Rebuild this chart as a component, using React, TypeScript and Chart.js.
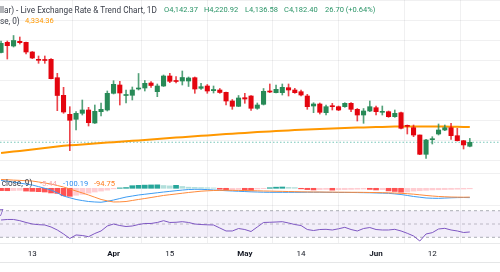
import React, { useEffect, useRef } from "react";
import { Chart, registerables } from "chart.js";

Chart.register(...registerables);

// ---- data ----
const TICK_INDEX = [5, 18, 27, 39, 48, 60, 69];
const TICK_LABELS = ["13", "Apr", "15", "May", "14", "Jun", "12"];
const MONTH_LABELS = ["Apr", "May", "Jun"];

const OPEN = [
  5080, 5182, 5145, 5192, 5182, 5085, 5008, 5005, 5012, 4828,
  4652, 4462, 4412, 4472, 4505, 4375, 4488, 4505, 4672, 4755,
  4650, 4652, 4715, 4725, 4775, 4688, 4745, 4845, 4798, 4795,
  4795, 4828, 4722, 4745, 4698, 4705, 4682, 4595, 4542, 4628,
  4645, 4522, 4562, 4695, 4678, 4678, 4728, 4705, 4688, 4645,
  4545, 4565, 4478, 4548, 4538, 4538, 4572, 4512, 4455, 4495,
  4528, 4482, 4488, 4438, 4478, 4348, 4328, 4255, 4062, 4208,
  4265, 4305, 4328, 4248, 4198, 4142.37,
];
const HIGH = [
  5195, 5195, 5250, 5235, 5185, 5090, 5045, 5045, 5018, 4872,
  4732, 4538, 4488, 4605, 4532, 4555, 4575, 4695, 4798, 4792,
  4705, 4735, 4870, 4800, 4788, 4765, 4855, 4872, 4840, 4895,
  4835, 4835, 4772, 4760, 4745, 4720, 4685, 4610, 4650, 4672,
  4650, 4575, 4720, 4765, 4755, 4765, 4765, 4722, 4705, 4662,
  4578, 4575, 4555, 4572, 4545, 4578, 4578, 4520, 4520, 4595,
  4545, 4545, 4495, 4505, 4485, 4355, 4355, 4255, 4212, 4238,
  4365, 4355, 4372, 4322, 4202, 4220.92,
];
const LOW = [
  5075, 5015, 5135, 5165, 5065, 5018, 4972, 4972, 4815, 4498,
  4472, 4098, 4305, 4455, 4345, 4370, 4445, 4495, 4665, 4555,
  4575, 4605, 4705, 4695, 4732, 4638, 4740, 4778, 4775, 4755,
  4740, 4672, 4710, 4672, 4675, 4672, 4555, 4512, 4538, 4572,
  4500, 4512, 4555, 4678, 4675, 4655, 4645, 4672, 4645, 4512,
  4478, 4465, 4455, 4505, 4498, 4532, 4488, 4395, 4372, 4488,
  4455, 4455, 4432, 4432, 4315, 4265, 4238, 4058, 4022, 4165,
  4255, 4298, 4212, 4195, 4115, 4136.58,
];
const CLOSE = [
  5172, 5148, 5200, 5178, 5085, 5025, 5002, 5000, 4818, 4650,
  4485, 4402, 4472, 4505, 4378, 4492, 4512, 4672, 4762, 4675,
  4655, 4705, 4725, 4772, 4750, 4745, 4845, 4792, 4790, 4830,
  4825, 4715, 4738, 4695, 4710, 4680, 4595, 4542, 4625, 4615,
  4522, 4555, 4692, 4685, 4712, 4732, 4705, 4678, 4655, 4538,
  4565, 4482, 4538, 4538, 4505, 4572, 4512, 4455, 4495, 4538,
  4488, 4488, 4438, 4472, 4322, 4342, 4255, 4062, 4205, 4212,
  4305, 4328, 4248, 4198, 4155.7, 4182.4,
];
const MA = [
  4075, 4082, 4089, 4096, 4103, 4110, 4118, 4125, 4132, 4140,
  4147, 4152, 4156, 4161, 4165, 4170, 4174, 4179, 4183, 4188,
  4192, 4197, 4201, 4206, 4210, 4215, 4220, 4224, 4229, 4233,
  4238, 4242, 4247, 4251, 4256, 4260, 4264, 4268, 4272, 4276,
  4280, 4284, 4287, 4291, 4294, 4298, 4301, 4304, 4307, 4310,
  4313, 4315, 4318, 4320, 4323, 4325, 4327, 4329, 4331, 4333,
  4335, 4336, 4337, 4339, 4340, 4341, 4341, 4341, 4341, 4340,
  4340, 4339, 4338, 4337, 4336, 4334.36,
];
const MACD = [
  84, 76, 66, 56, 45, 35, 18, 0, -18, -50,
  -83, -102, -120, -132, -142, -147, -150, -140, -126, -110,
  -94, -83, -72, -64, -56, -48, -40, -33, -26, -19,
  -13, -11, -11, -14, -18, -22, -26, -29, -32, -35,
  -38, -40, -42, -43, -43, -43, -43, -43, -43, -42,
  -42, -42, -43, -44, -45, -45, -45, -46, -47, -48,
  -50, -52, -54, -60, -67, -77, -88, -96, -104, -107,
  -108, -105, -102, -100, -99, -100.19,
];
const SIGNAL = [
  95, 92, 88, 85, 81, 78, 68, 57, 46, 30,
  14, -8, -29, -50, -72, -96, -120, -135, -147, -146,
  -142, -131, -120, -110, -99, -88, -77, -69, -61, -53,
  -45, -38, -31, -27, -24, -22, -21, -22, -23, -24,
  -26, -27, -29, -30, -32, -33, -35, -36, -38, -39,
  -40, -40, -41, -41, -42, -42, -43, -43, -44, -45,
  -46, -47, -49, -51, -54, -58, -63, -70, -77, -83,
  -88, -91, -94, -95, -96, -94.75,
];
const HIST = [
  -25, -26, -24, -22, -30, -33, -36, -40, -50, -55,
  -80, -86, -75, -65, -52, -40, -30, -20, -6, 4,
  8, 28, 32, 34, 36, 37, 30, 26, 32, 20,
  12, 10, 8, 6, 4, -10, -20, -16, -12, -20,
  -22, -8, -4, 6, 12, 14, 10, 8, -6, -14,
  -18, -14, -12, -20, -16, -14, -12, -10, -8, -12,
  -18, -14, -28, -34, -42, -40, -30, -26, -22, -18,
  -16, -14, -12, -10, -8, -5.44,
];
const RSI = [
  56, 56.8, 56.8, 55, 52.3, 50, 49, 48.5, 45.5, 41,
  35, 28.2, 33.5, 32.7, 30.9, 35.7, 39.5, 47, 50, 47.7,
  46.2, 47, 49.2, 50.8, 50.8, 52.3, 55, 52.3, 52.6, 53.5,
  52.3, 50, 49.2, 48.8, 48.5, 44, 39.5, 39.5, 43.2, 41.7,
  38.7, 45.5, 52.3, 52.6, 53, 53.5, 51.5, 49.2, 47.7, 41.7,
  40.2, 41.7, 42, 41, 42.8, 45, 41.7, 39.5, 43.2, 44.7,
  41.7, 41, 41, 42, 39.5, 36, 32, 24.4, 35, 37,
  42.5, 43.5, 41, 39.5, 37.2, 38,
];
const RSI_UPPER = 70;
const RSI_MID = 50;
const RSI_LOWER = 30;
const PRICE_GRID = [4000, 4200, 4400, 4600, 4800, 5000, 5200, 5400, 5600];
const MACD_GRID = [161, -180];

const TITLE = "llar) - Live Exchange Rate & Trend Chart, 1D";
const MA_TITLE = "se, 0)";
const MACD_TITLE = ", close, 9)";
const RSI_TITLE = "7";

// ---- layout / style ----
const X_MIN = -0.168;
const X_MAX = 79.832;
const PRICE_MIN = 3175;
const PRICE_MAX = 5605;
const MACD_MIN = -588;
const MACD_MAX = 2024;
const RSI_MIN = 21.43;
const RSI_MAX = 386.84;
const X_AXIS_HEIGHT = 29;
const BOTTOM_RULE_Y = 262.5;

const FONT = "Roboto, 'Open Sans', sans-serif";
const UP = "#288a57";
const DOWN = "#e4050f";
const UP_WICK = "rgba(40,138,87,0.8)";
const DOWN_WICK = "rgba(228,5,15,0.75)";
const GRID = "rgba(42,46,57,0.07)";

function fmt(v: number): string {
  const s = Math.abs(v).toFixed(2);
  const [a, b] = s.split(".");
  return (v < 0 ? "-" : "") + a.replace(/\B(?=(\d{3})+(?!\d))/g, ",") + "." + b;
}

export default function App() {
  const ref = useRef<HTMLCanvasElement>(null);

  useEffect(() => {
    const canvas = ref.current;
    if (!canvas) return;
    const n = CLOSE.length;
    const idx = CLOSE.map((_, i) => i);
    const up = idx.map((i) => CLOSE[i] >= OPEN[i]);
    const last = n - 1;
    const lastClose = CLOSE[last];
    const prevClose = CLOSE[last - 1];
    const change = lastClose - prevClose;
    const pct = (change / prevClose) * 100;

    const histColors = idx.map((i) => {
      const v = HIST[i];
      const p = i > 0 ? HIST[i - 1] : 0;
      if (v >= 0) return v >= p ? "#26a69a" : "#b2dfdb";
      return v <= p ? "#ff5252" : "#ffcdd2";
    });

    const green = "#2a9467";
    const segments = [
      { kind: "t", text: TITLE, x: 0, y: 10.5, color: "#3c404b" },
      { kind: "v", text: "O" + fmt(OPEN[last]), x: 164, y: 10.5, color: green },
      { kind: "v", text: "H" + fmt(HIGH[last]), x: 204, y: 10.5, color: green },
      { kind: "v", text: "L" + fmt(LOW[last]), x: 245, y: 10.5, color: green },
      { kind: "v", text: "C" + fmt(lastClose), x: 284, y: 10.5, color: green },
      {
        kind: "v",
        text: fmt(change) + " (" + (pct >= 0 ? "+" : "") + pct.toFixed(2) + "%)",
        x: 325,
        y: 10.5,
        color: green,
      },
      { kind: "t", text: MA_TITLE, x: 0, y: 21.5, color: "#3c404b" },
      { kind: "v", text: fmt(MA[last]), x: 25, y: 21.5, color: "#ff9800" },
      { kind: "t", text: MACD_TITLE, x: -2, y: 184, color: "#3c404b" },
      { kind: "v", text: fmt(HIST[last]), x: 40, y: 184, color: "#f5a3aa" },
      { kind: "v", text: fmt(MACD[last]), x: 63, y: 184, color: "#2f8ff0" },
      { kind: "v", text: fmt(SIGNAL[last]), x: 94, y: 184, color: "#ff7a1a" },
      { kind: "t", text: RSI_TITLE, x: -1, y: 213.5, color: "#7e57c2" },
    ];

    const textPlugin = {
      id: "legendText",
      afterDraw(chart: any) {
        const ctx = chart.ctx;
        ctx.save();
        // bottom rule under the time axis
        ctx.strokeStyle = "rgba(42,46,57,0.12)";
        ctx.lineWidth = 1;
        ctx.beginPath();
        ctx.moveTo(0, BOTTOM_RULE_Y);
        ctx.lineTo(chart.width, BOTTOM_RULE_Y);
        ctx.stroke();

        ctx.font = `10px ${FONT}`;
        const tSize = (10 * 157) / ctx.measureText(TITLE).width;
        const vSize = (10 * 34) / ctx.measureText("O" + fmt(OPEN[last])).width;
        ctx.textBaseline = "middle";
        ctx.textAlign = "left";
        for (const s of segments) {
          ctx.font = `${s.kind === "t" ? tSize : vSize}px ${FONT}`;
          ctx.fillStyle = s.color;
          ctx.fillText(s.text, s.x, s.y);
        }
        ctx.restore();
      },
    };

    const flat = (v: number) => [
      { x: X_MIN, y: v },
      { x: X_MAX, y: v },
    ];

    const chart = new Chart(canvas, {
      type: "bar",
      data: {
        datasets: [
          {
            type: "bar",
            label: "body",
            data: idx.map((i) => ({ x: i, y: [OPEN[i], CLOSE[i]] })),
            backgroundColor: idx.map((i) => (up[i] ? UP : DOWN)),
            barThickness: 4.4,
            minBarLength: 1,
            grouped: false,
            borderWidth: 0,
            yAxisID: "y",
            order: 1,
          },
          {
            type: "bar",
            label: "wick",
            data: idx.map((i) => ({ x: i, y: [LOW[i], HIGH[i]] })),
            backgroundColor: idx.map((i) => (up[i] ? UP_WICK : DOWN_WICK)),
            barThickness: 1,
            grouped: false,
            borderWidth: 0,
            yAxisID: "y",
            order: 2,
          },
          {
            type: "line",
            label: "ma",
            data: idx.map((i) => ({ x: i, y: MA[i] })),
            borderColor: "#ff9800",
            borderWidth: 2,
            pointRadius: 0,
            yAxisID: "y",
            order: 3,
          },
          {
            type: "line",
            label: "last",
            data: flat(lastClose),
            borderColor: "rgba(8,153,129,0.55)",
            borderWidth: 1,
            borderDash: [1.5, 2],
            pointRadius: 0,
            yAxisID: "y",
            order: 4,
          },
          {
            type: "bar",
            label: "hist",
            data: idx.map((i) => ({ x: i, y: HIST[i] })),
            backgroundColor: histColors,
            barThickness: 5,
            grouped: false,
            borderWidth: 0,
            yAxisID: "yM",
            order: 7,
          },
          {
            type: "line",
            label: "macd",
            data: idx.map((i) => ({ x: i, y: MACD[i] })),
            borderColor: "#3d9cf2",
            borderWidth: 1,
            pointRadius: 0,
            yAxisID: "yM",
            order: 6,
          },
          {
            type: "line",
            label: "signal",
            data: idx.map((i) => ({ x: i, y: SIGNAL[i] })),
            borderColor: "#ff8a3a",
            borderWidth: 1,
            pointRadius: 0,
            yAxisID: "yM",
            order: 5,
          },
          {
            type: "line",
            label: "rsiUpper",
            data: flat(RSI_UPPER),
            borderColor: "rgba(120,123,134,0.6)",
            borderWidth: 1,
            borderDash: [3, 3],
            pointRadius: 0,
            fill: false,
            yAxisID: "yR",
            order: 10,
          },
          {
            type: "line",
            label: "rsiLower",
            data: flat(RSI_LOWER),
            borderColor: "rgba(120,123,134,0.6)",
            borderWidth: 1,
            borderDash: [3, 3],
            pointRadius: 0,
            fill: "-1",
            backgroundColor: "rgba(126,87,194,0.1)",
            yAxisID: "yR",
            order: 10,
          },
          {
            type: "line",
            label: "rsiMid",
            data: flat(RSI_MID),
            borderColor: "rgba(120,123,134,0.45)",
            borderWidth: 1,
            borderDash: [3, 3],
            pointRadius: 0,
            yAxisID: "yR",
            order: 9,
          },
          {
            type: "line",
            label: "rsi",
            data: idx.map((i) => ({ x: i, y: RSI[i] })),
            borderColor: "#7e57c2",
            borderWidth: 1,
            pointRadius: 0,
            yAxisID: "yR",
            order: 8,
          },
        ] as any,
      },
      options: {
        responsive: false,
        maintainAspectRatio: false,
        animation: false,
        events: [],
        layout: { padding: 0 },
        plugins: { legend: { display: false }, tooltip: { enabled: false } },
        scales: {
          x: {
            type: "linear",
            min: X_MIN,
            max: X_MAX,
            offset: false,
            afterBuildTicks: (s: any) => {
              s.ticks = TICK_INDEX.map((v) => ({ value: v }));
            },
            afterFit: (s: any) => {
              s.height = X_AXIS_HEIGHT;
            },
            ticks: {
              autoSkip: false,
              maxRotation: 0,
              padding: 6,
              color: "#131722",
              font: (c: any) => ({
                family: FONT,
                size: 8,
                weight: MONTH_LABELS.includes(TICK_LABELS[c.index]) ? "bold" : "normal",
              }),
              callback: (_v: any, i: number) => TICK_LABELS[i],
            },
            grid: { color: GRID, drawTicks: false },
            border: { display: true, color: "rgba(42,46,57,0.1)" },
          },
          y: {
            type: "linear",
            position: "right",
            min: PRICE_MIN,
            max: PRICE_MAX,
            afterBuildTicks: (s: any) => {
              s.ticks = PRICE_GRID.map((v) => ({ value: v }));
            },
            ticks: { display: false },
            grid: { color: GRID, drawTicks: false },
            border: { display: false },
          },
          yM: {
            type: "linear",
            position: "right",
            min: MACD_MIN,
            max: MACD_MAX,
            afterBuildTicks: (s: any) => {
              s.ticks = MACD_GRID.map((v) => ({ value: v }));
            },
            ticks: { display: false },
            grid: { color: GRID, drawTicks: false },
            border: { display: false },
          },
          yR: {
            type: "linear",
            position: "right",
            min: RSI_MIN,
            max: RSI_MAX,
            display: false,
          },
        } as any,
      },
      plugins: [textPlugin],
    } as any);

    return () => chart.destroy();
  }, []);

  return (
    <div style={{ position: "absolute", left: 0, top: 0, width: 500, height: 272, background: "#fff" }}>
      <canvas ref={ref} width={500} height={272} style={{ width: 500, height: 272, display: "block" }} />
    </div>
  );
}
